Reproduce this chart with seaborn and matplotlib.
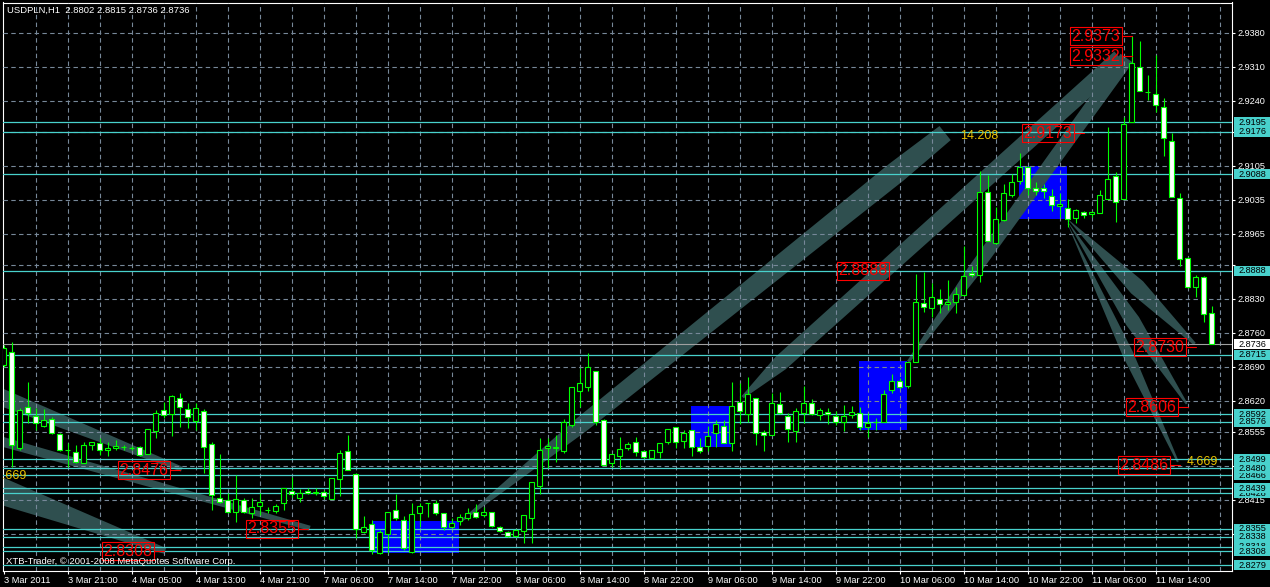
import matplotlib
matplotlib.use("Agg")
import matplotlib.pyplot as plt
import matplotlib.transforms as mtransforms
from matplotlib.patches import Rectangle
import numpy as np
import pandas as pd
import seaborn as sns


### USDPLN H1 candles (3 Mar 2011 13:00 -> 11 Mar 2011)

opens = [2.8694, 2.8720, 2.8522, 2.8607, 2.8588, 2.8567, 2.8582, 2.8551, 2.8518, 2.8514,
         2.8491, 2.8528, 2.8532, 2.8518, 2.8522, 2.8524, 2.8522, 2.8524, 2.8509, 2.8557,
         2.8600, 2.8592, 2.8625, 2.8603, 2.8578, 2.8598, 2.8530, 2.8418, 2.8414, 2.8389,
         2.8414, 2.8387, 2.8402, 2.8394, 2.8392, 2.8408, 2.8433, 2.8418, 2.8433, 2.8429,
         2.8431, 2.8416, 2.8458, 2.8516, 2.8468, 2.8348, 2.8365, 2.8305, 2.8344, 2.8394,
         2.8373, 2.8307, 2.8387, 2.8408, 2.8408, 2.8387, 2.8359, 2.8371, 2.8377, 2.8389,
         2.8383, 2.8389, 2.8359, 2.8348, 2.8340, 2.8350, 2.8377, 2.8443, 2.8522, 2.8522,
         2.8516, 2.8569, 2.8640, 2.8648, 2.8681, 2.8580, 2.8491, 2.8505, 2.8522, 2.8534,
         2.8516, 2.8501, 2.8514, 2.8534, 2.8565, 2.8536, 2.8559, 2.8524, 2.8526, 2.8553,
         2.8567, 2.8532, 2.8617, 2.8592, 2.8625, 2.8555, 2.8549, 2.8613, 2.8588, 2.8557,
         2.8594, 2.8615, 2.8590, 2.8596, 2.8588, 2.8576, 2.8590, 2.8594, 2.8565, 2.8576,
         2.8576, 2.8642, 2.8660, 2.8650, 2.8700, 2.8822, 2.8811, 2.8830, 2.8820, 2.8824,
         2.8838, 2.8884, 2.8880, 2.9051, 2.8946, 2.8993, 2.9045, 2.9074, 2.9103, 2.9060,
         2.9060, 2.9043, 2.9022, 2.9018, 2.8998, 2.9010, 2.9006, 2.9008, 2.9037, 2.9084,
         2.9037, 2.9196, 2.9310, 2.9258, 2.9254, 2.9227, 2.9157, 2.9039, 2.8915, 2.8855,
         2.8876, 2.8802]
highs = [2.8735, 2.8741, 2.8605, 2.8658, 2.8605, 2.8603, 2.8586, 2.8553, 2.8532, 2.8528,
         2.8534, 2.8535, 2.8543, 2.8534, 2.8538, 2.8528, 2.8526, 2.8526, 2.8561, 2.8600,
         2.8617, 2.8631, 2.8636, 2.8615, 2.8615, 2.8603, 2.8534, 2.8509, 2.8429, 2.8466,
         2.8418, 2.8418, 2.8429, 2.8400, 2.8406, 2.8439, 2.8462, 2.8437, 2.8439, 2.8439,
         2.8435, 2.8460, 2.8518, 2.8549, 2.8470, 2.8381, 2.8373, 2.8352, 2.8389, 2.8427,
         2.8381, 2.8408, 2.8408, 2.8409, 2.8414, 2.8388, 2.8377, 2.8385, 2.8398, 2.8406,
         2.8400, 2.8390, 2.8361, 2.8350, 2.8354, 2.8383, 2.8452, 2.8543, 2.8543, 2.8549,
         2.8582, 2.8648, 2.8687, 2.8718, 2.8682, 2.8582, 2.8509, 2.8545, 2.8534, 2.8545,
         2.8517, 2.8518, 2.8532, 2.8561, 2.8566, 2.8559, 2.8560, 2.8543, 2.8567, 2.8580,
         2.8580, 2.8658, 2.8656, 2.8669, 2.8626, 2.8559, 2.8636, 2.8638, 2.8594, 2.8605,
         2.8650, 2.8623, 2.8605, 2.8605, 2.8598, 2.8611, 2.8609, 2.8607, 2.8594, 2.8584,
         2.8642, 2.8675, 2.8666, 2.8700, 2.8882, 2.8886, 2.8863, 2.8851, 2.8869, 2.8855,
         2.8940, 2.8898, 2.9095, 2.9086, 2.9020, 2.9068, 2.9088, 2.9132, 2.9104, 2.9072,
         2.9068, 2.9057, 2.9049, 2.9037, 2.9015, 2.9011, 2.9011, 2.9055, 2.9186, 2.9093,
         2.9206, 2.9373, 2.9363, 2.9293, 2.9335, 2.9246, 2.9173, 2.9049, 2.8916, 2.8880,
         2.8877, 2.8815]
lows = [2.8689, 2.8483, 2.8518, 2.8574, 2.8559, 2.8565, 2.8551, 2.8516, 2.8483, 2.8491,
        2.8491, 2.8518, 2.8507, 2.8505, 2.8518, 2.8518, 2.8518, 2.8505, 2.8509, 2.8543,
        2.8584, 2.8547, 2.8565, 2.8563, 2.8559, 2.8470, 2.8394, 2.8408, 2.8387, 2.8369,
        2.8387, 2.8377, 2.8383, 2.8387, 2.8387, 2.8394, 2.8420, 2.8410, 2.8427, 2.8425,
        2.8416, 2.8416, 2.8423, 2.8476, 2.8336, 2.8346, 2.8303, 2.8303, 2.8305, 2.8373,
        2.8311, 2.8305, 2.8359, 2.8379, 2.8383, 2.8352, 2.8356, 2.8363, 2.8373, 2.8377,
        2.8379, 2.8359, 2.8348, 2.8338, 2.8338, 2.8325, 2.8325, 2.8427, 2.8480, 2.8493,
        2.8511, 2.8565, 2.8607, 2.8640, 2.8569, 2.8487, 2.8483, 2.8478, 2.8518, 2.8505,
        2.8501, 2.8500, 2.8501, 2.8530, 2.8522, 2.8522, 2.8505, 2.8511, 2.8516, 2.8524,
        2.8532, 2.8516, 2.8571, 2.8576, 2.8528, 2.8516, 2.8548, 2.8592, 2.8534, 2.8534,
        2.8574, 2.8590, 2.8580, 2.8571, 2.8569, 2.8557, 2.8584, 2.8559, 2.8545, 2.8559,
        2.8575, 2.8636, 2.8646, 2.8646, 2.8699, 2.8803, 2.8793, 2.8801, 2.8807, 2.8801,
        2.8837, 2.8876, 2.8865, 2.8950, 2.8944, 2.8991, 2.9041, 2.9068, 2.9045, 2.9045,
        2.9039, 2.9012, 2.9000, 2.8979, 2.8987, 2.8998, 2.9000, 2.9007, 2.9036, 2.8989,
        2.9036, 2.9195, 2.9260, 2.9241, 2.9217, 2.9126, 2.9041, 2.8898, 2.8853, 2.8834,
        2.8782, 2.8736]
closes = [2.8729, 2.8528, 2.8600, 2.8594, 2.8574, 2.8580, 2.8553, 2.8518, 2.8517, 2.8493,
          2.8528, 2.8534, 2.8518, 2.8522, 2.8526, 2.8524, 2.8522, 2.8507, 2.8561, 2.8594,
          2.8590, 2.8629, 2.8607, 2.8586, 2.8605, 2.8524, 2.8425, 2.8410, 2.8389, 2.8416,
          2.8389, 2.8400, 2.8410, 2.8394, 2.8402, 2.8439, 2.8427, 2.8429, 2.8429, 2.8430,
          2.8423, 2.8460, 2.8511, 2.8476, 2.8354, 2.8359, 2.8311, 2.8348, 2.8389, 2.8377,
          2.8315, 2.8385, 2.8402, 2.8408, 2.8387, 2.8359, 2.8367, 2.8379, 2.8387, 2.8379,
          2.8389, 2.8361, 2.8350, 2.8340, 2.8352, 2.8383, 2.8452, 2.8518, 2.8526, 2.8523,
          2.8576, 2.8648, 2.8656, 2.8689, 2.8576, 2.8487, 2.8509, 2.8520, 2.8530, 2.8514,
          2.8503, 2.8518, 2.8532, 2.8561, 2.8534, 2.8553, 2.8524, 2.8516, 2.8547, 2.8571,
          2.8532, 2.8609, 2.8598, 2.8633, 2.8553, 2.8549, 2.8615, 2.8594, 2.8561, 2.8598,
          2.8615, 2.8592, 2.8600, 2.8592, 2.8576, 2.8588, 2.8596, 2.8565, 2.8574, 2.8575,
          2.8633, 2.8660, 2.8648, 2.8700, 2.8824, 2.8814, 2.8834, 2.8820, 2.8824, 2.8840,
          2.8878, 2.8880, 2.9051, 2.8950, 2.8995, 2.9049, 2.9072, 2.9103, 2.9060, 2.9053,
          2.9053, 2.9024, 2.9026, 2.8995, 2.9014, 2.9004, 2.9010, 2.9045, 2.9078, 2.9031,
          2.9192, 2.9318, 2.9260, 2.9258, 2.9231, 2.9163, 2.9041, 2.8913, 2.8855, 2.8876,
          2.8799, 2.8736]

date_labels = ['3 Mar 2011', '3 Mar 21:00', '4 Mar 05:00', '4 Mar 13:00', '4 Mar 21:00',
               '7 Mar 06:00', '7 Mar 14:00', '7 Mar 22:00', '8 Mar 06:00', '8 Mar 14:00',
               '8 Mar 22:00', '9 Mar 06:00', '9 Mar 14:00', '9 Mar 22:00', '10 Mar 06:00',
               '10 Mar 14:00', '10 Mar 22:00', '11 Mar 06:00', '11 Mar 14:00']

# price scale, '' where the label sits under a level box
price_ticks = [2.9380, 2.9310, 2.9240, 2.9175, 2.9105, 2.9035, 2.8965, 2.8900,
               2.8830, 2.8760, 2.8690, 2.8620, 2.8555, 2.8485, 2.8415, 2.8345]
price_tick_labels = ['2.9380', '2.9310', '2.9240', '', '2.9105', '2.9035', '2.8965', '',
                     '2.8830', '2.8760', '2.8690', '2.8620', '2.8555', '', '2.8415', '']

# horizontal levels (drawing order: partly hidden ones first)
levels = [2.8592, 2.8466, 2.8428, 2.8318, 2.9195, 2.9176, 2.9088, 2.8888, 2.8715,
          2.8576, 2.8499, 2.8480, 2.8439, 2.8355, 2.8338, 2.8308, 2.8279]
last_price = 2.8736

# blue rectangles: bar from/to, price top/bottom
box_start = [46.1, 85.9, 106.9, 126.9]
box_end = [56.9, 90.9, 112.9, 132.9]
box_top = [2.8371, 2.8609, 2.8702, 2.9105]
box_bottom = [2.8305, 2.8524, 2.8559, 2.8995]

# slate bands: start (bar, price) -> end (bar, price)
band_x0 = [57.1, 92.4, 113.1, 132.9, 132.9, 132.9, -1.7, -1.7, -1.7]
band_p0 = [2.8369, 2.8627, 2.8700, 2.8997, 2.8993, 2.8989, 2.8636, 2.8542, 2.8441]
band_x1 = [117.7, 139.6, 140.4, 148.9, 147.9, 146.8, 22.3, 38.3, 20.2]
band_p1 = [2.9173, 2.9328, 2.9328, 2.8737, 2.8613, 2.8493, 2.8478, 2.8356, 2.8309]

# red price marks
mark_text = ['2.9373', '2.9332', '2.9173', '2.8888', '2.8730', '2.8606', '2.8486',
             '2.8476', '2.8355', '2.8308']
mark_price = [2.9373, 2.9332, 2.9173, 2.8888, 2.8730, 2.8606, 2.8486, 2.8476, 2.8355, 2.8308]
mark_bar = [141, 141, 135, 110.7, 149, 148, 147, 22, 38, 20]
mark_tick = [True, True, True, False, True, True, True, True, True, True]

# yellow notes
note_text = ['14.208', '4.669', '4.669']
note_price = [2.9167, 2.8492, 2.8463]
note_bar = [119.6, 147.9, 2.9]
note_ha = ['left', 'left', 'right']


### style

sns.set_theme(style="dark", rc={'axes.facecolor': 'black', 'figure.facecolor': 'black',
                                'axes.edgecolor': 'white', 'text.color': 'white',
                                'xtick.color': 'white', 'ytick.color': 'white'})
plt.rcParams['font.family'] = ['Liberation Sans', 'DejaVu Sans']

W, H = 1270, 587
left_px, right_px, top_px, bottom_px = 2.5, 1232, 2.5, 571
fig = plt.figure(figsize=(W / 100, H / 100), dpi=100, facecolor='black')
ax = fig.add_axes([left_px / W, 1 - bottom_px / H, (right_px - left_px) / W, (bottom_px - top_px) / H])
ax.set_facecolor('black')
xlo, xhi = -0.125, 153.5625
ylo, yhi = 2.82675, 2.94430
ax.set_xlim(xlo, xhi)
ax.set_ylim(ylo, yhi)
bar_px = (xhi - xlo) / (right_px - left_px)
price_px = (yhi - ylo) / (bottom_px - top_px)

for s in ax.spines.values():
    s.set_color('white')
    s.set_linewidth(0.8)

grid_col = '#778899'
grid_ls = (0, (4, 3))


### blue boxes
for x0, x1, pt, pb in zip(box_start, box_end, box_top, box_bottom):
    ax.add_patch(Rectangle((x0, pb), x1 - x0, pt - pb, facecolor='#0000FF', edgecolor='none', zorder=1))


### slate bands
def band_polygon(x0, p0, x1, p1, fracs, widths):
    a = ax.transData.transform((x0, p0))
    b = ax.transData.transform((x1, p1))
    d = b - a
    n = np.array([-d[1], d[0]]) / np.hypot(d[0], d[1])
    upper, lower = [], []
    for f, w in zip(fracs, widths):
        c = a + f * d
        upper.append(c + n * w / 2)
        lower.append(c - n * w / 2)
    pts = np.array(upper + lower[::-1])
    return ax.transData.inverted().transform(pts)

# width profile along each band (fraction of length, width in pixels)
band_shape = [([0, 0.25, 0.9, 1], [2, 16, 22, 18]),
              ([0, 0.1, 1], [3, 16, 18]),
              ([0, 0.3, 1], [3, 13, 15]),
              ([0, 0.55, 1], [0, 17, 3]), ([0, 0.55, 1], [0, 15, 2]), ([0, 0.55, 1], [0, 11, 2]),
              ([0, 1], [18, 5]), ([0, 1], [10, 5]), ([0, 1], [28, 6])]
for i in range(len(band_x0)):
    fr, ws = band_shape[i]
    pts = band_polygon(band_x0[i], band_p0[i], band_x1[i], band_p1[i], fr, ws)
    ax.fill(pts[:, 0], pts[:, 1], color='#2F4F4F', lw=0, zorder=2)


### grid
for xv in range(4, 154, 4):
    ax.axvline(xv, color=grid_col, lw=0.8, ls=grid_ls, zorder=3)
for pv in price_ticks:
    ax.axhline(pv, color=grid_col, lw=0.8, ls=grid_ls, zorder=3)

for lv in levels:
    ax.axhline(lv, color='#48D1CC', lw=0.9, zorder=3.5)
ax.axhline(last_price, color='#A0A0A0', lw=0.8, zorder=3.5)


### candles
df = pd.DataFrame({'open': opens, 'high': highs, 'low': lows, 'close': closes})
df['bar'] = np.arange(len(df))
df['bull'] = df['close'] >= df['open']

ax.vlines(df['bar'], df['low'], df['high'], color='#00FF00', lw=0.8, zorder=4)
ax.bar(df['bar'], (df['close'] - df['open']).abs(), bottom=df[['open', 'close']].min(axis=1),
       width=0.62, color=np.where(df['bull'], 'black', 'white'), edgecolor='#00FF00',
       linewidth=0.8, zorder=5)


### red price marks
bw, bh = 52 * bar_px, 18 * price_px
for txt, pr, anchor, tick in zip(mark_text, mark_price, mark_bar, mark_tick):
    right = anchor - 10 * bar_px if tick else anchor
    if tick:
        ax.plot([right, anchor], [pr, pr], color='#FF0000', lw=0.8, zorder=9)
    ax.add_patch(Rectangle((right - bw, pr - bh / 2), bw, bh, fill=False, edgecolor='#FF0000',
                           lw=0.8, zorder=9))
    ax.text(right - bw / 2, pr, txt, color='#FF0000', fontsize=11.5, ha='center', va='center',
            zorder=9)

for txt, pr, xb, ha in zip(note_text, note_price, note_bar, note_ha):
    ax.text(xb, pr, txt, color='#E8C100', fontsize=9, ha=ha, va='center', zorder=9, clip_on=True)


### axes ticks
ax.set_xticks(np.arange(0, 152, 8))
ax.set_xticklabels(date_labels)
for lbl in ax.get_xticklabels():
    lbl.set_ha('left')
ax.tick_params(axis='x', bottom=True, length=2.2, width=0.8, colors='white', labelsize=6.7, pad=1.5)

ax.yaxis.tick_right()
ax.set_yticks(price_ticks)
ax.set_yticklabels(price_tick_labels)
ax.tick_params(axis='y', right=True, left=False, length=2.2, width=0.8, colors='white',
               labelsize=6.6, pad=1.8)
ax.grid(False)

# level boxes on the price scale
trans = mtransforms.blended_transform_factory(ax.transAxes, ax.transData)
bx = (1234 - left_px) / (right_px - left_px)
tx = (1238 - left_px) / (right_px - left_px)
lh = 10 * price_px
for i, lv in enumerate(levels):
    ax.add_patch(Rectangle((bx, lv - lh / 2), 0.04, lh, transform=trans, facecolor='#48D1CC',
                           edgecolor='none', clip_on=False, zorder=10 + 2 * i))
    ax.text(tx, lv, f'{lv:.4f}', transform=trans, color='black', fontsize=6.6, ha='left',
            va='center', clip_on=False, zorder=11 + 2 * i)
ax.add_patch(Rectangle((bx, last_price - lh / 2), 0.04, lh, transform=trans, facecolor='white',
                       edgecolor='none', clip_on=False, zorder=60))
ax.text(tx, last_price, f'{last_price:.4f}', transform=trans, color='black', fontsize=6.6,
        ha='left', va='center', clip_on=False, zorder=61)

fig.text(7 / W, 1 - 10.5 / H, 'USDPLN,H1  2.8802 2.8815 2.8736 2.8736', color='white',
         fontsize=6.8, ha='left', va='center')
fig.text(6 / W, 1 - 561 / H, 'XTB-Trader, \u00a9 2001-2008 MetaQuotes Software Corp.',
         color='white', fontsize=6.8, ha='left', va='center', zorder=20)

fig.savefig('out.png', dpi=100, facecolor='black')
